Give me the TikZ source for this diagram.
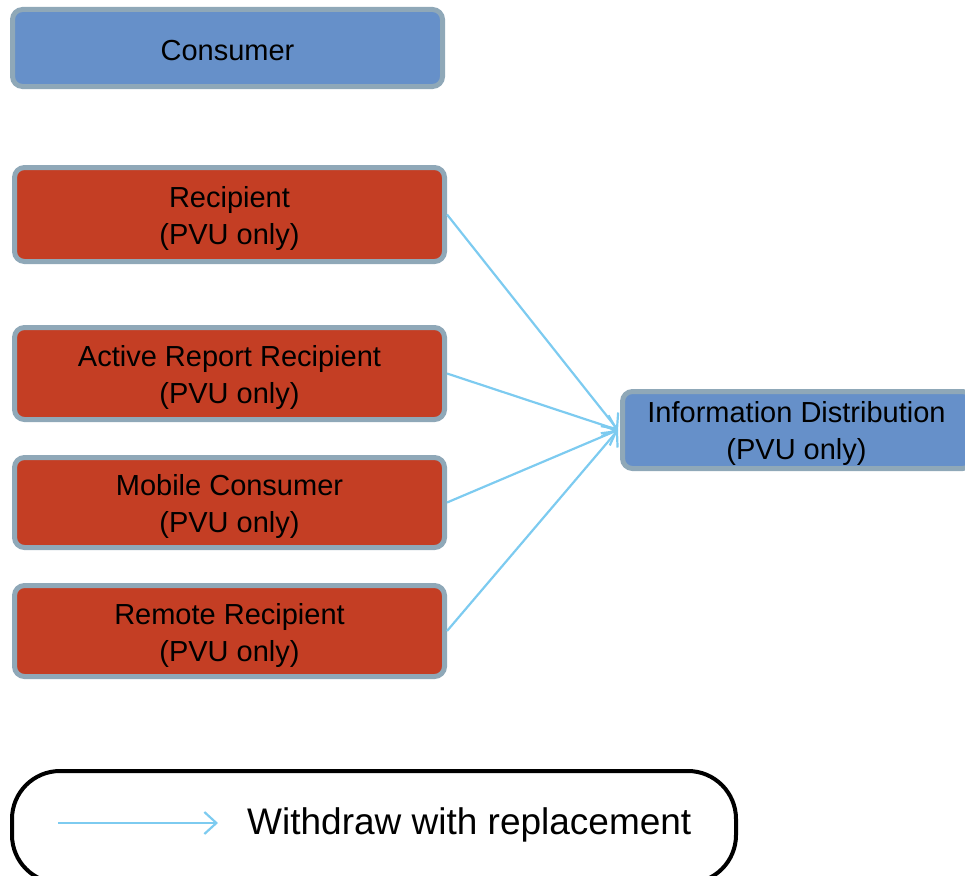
\documentclass[tikz,border=0pt]{standalone}
\usepackage{fontspec}
\setmainfont{Liberation Sans}
\usetikzlibrary{arrows.meta}
\definecolor{boxblue}{HTML}{6690C9}
\definecolor{boxred}{HTML}{C43E24}
\definecolor{boxedge}{HTML}{8FA8B8}
\definecolor{arrowblue}{HTML}{7DCBF0}
\tikzset{
  box/.style={draw=boxedge, line width=5pt, rounded corners=10pt, minimum width=430pt, inner sep=0pt},
  boxtext/.style={align=center, font=\fontsize{29}{37}\selectfont, inner sep=0pt, yshift=-4pt},
  bluebox/.style={box, fill=boxblue},
  redbox/.style={box, fill=boxred},
  flow/.style={draw=arrowblue, line width=2.2pt, -{Straight Barb[length=12pt,width=22pt,line width=2.2pt]}},
}
\begin{document}
\begin{tikzpicture}[x=1pt,y=-1pt]
\useasboundingbox (0,0) rectangle (965,875);
\clip (0,0) rectangle (965,875);
\node[bluebox, minimum height=77pt, label={[boxtext, yshift=1pt]center:Consumer}] (cons) at (227.5,48) {};
\node[redbox, minimum height=94pt, label={[boxtext]center:Recipient\\(PVU only)}] (rec) at (229.5,214.5) {};
\node[redbox, minimum height=92pt, label={[boxtext]center:Active Report Recipient\\(PVU only)}] (act) at (229.5,373.5) {};
\node[redbox, minimum height=90pt, label={[boxtext]center:Mobile Consumer\\(PVU only)}] (mob) at (229.5,502.5) {};
\node[redbox, minimum height=91pt, label={[boxtext]center:Remote Recipient\\(PVU only)}] (rem) at (229.5,631) {};
\node[bluebox, minimum width=350pt, minimum height=77pt, label={[boxtext, yshift=1pt, xshift=-1pt]center:Information Distribution\\(PVU only)}] (info) at (797.5,430) {};
\coordinate (tgt) at (618,430);
\draw[flow] (rec.east) -- (tgt);
\draw[flow] (act.east) -- (tgt);
\draw[flow] (mob.east) -- (tgt);
\draw[flow] (rem.east) -- (tgt);
\node[draw=black, line width=4pt, rounded corners=48pt, minimum width=724pt, minimum height=112pt] (leg) at (374,827) {};
\coordinate (la) at (58,823);
\coordinate (lb) at (218,823);
\draw[flow] (la) -- (lb);
\node[font=\fontsize{37}{44}\selectfont, anchor=west, inner sep=0pt] (legtxt) at (247,825) {Withdraw with replacement};
\end{tikzpicture}
\end{document}
